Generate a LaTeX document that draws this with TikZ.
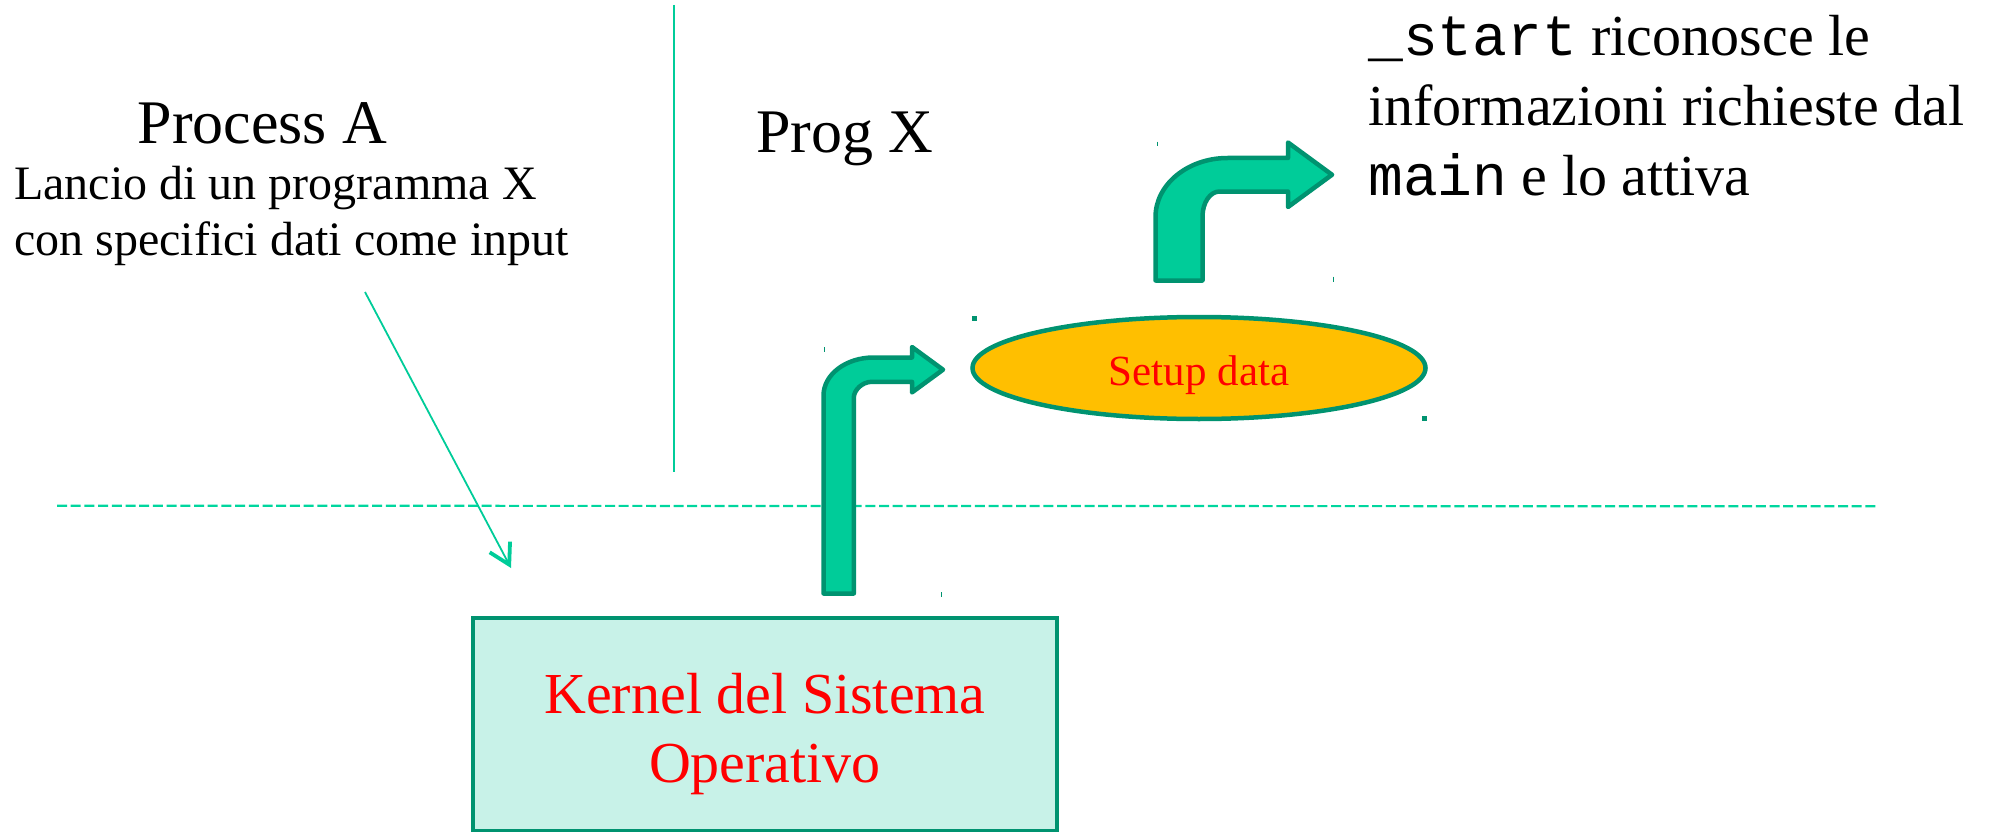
\documentclass[tikz,border=0pt]{standalone}
\usepackage{fontspec}
\setmainfont{Liberation Serif}
\setmonofont{Liberation Mono}
\usetikzlibrary{arrows.meta,shapes.geometric}
\definecolor{darkg}{RGB}{0,147,112}
\definecolor{lightg}{RGB}{0,204,153}
\definecolor{dashg}{RGB}{0,214,158}
\definecolor{kfill}{RGB}{200,242,232}
\definecolor{yfill}{RGB}{255,191,0}
\definecolor{rtext}{RGB}{255,0,0}
\begin{document}
\begin{tikzpicture}[x=1pt,y=-1pt,
  blockarrow/.style={fill=lightg,draw=darkg,line width=4.5pt,line join=round},
  kernelbox/.style={draw=darkg,fill=kfill,line width=4.5pt,minimum width=584pt,minimum height=213pt,inner sep=0pt},
  setupell/.style={ellipse,draw=darkg,fill=yfill,line width=4.5pt,minimum width=453pt,minimum height=102pt,inner sep=0pt},
  redlbl/.style={text=rtext,inner sep=0pt},
  blacklbl/.style={text=black,inner sep=0pt},
  thinline/.style={draw=lightg,line width=1.8pt},
  dashline/.style={draw=dashg,line width=2.2pt,dash pattern=on 10pt off 3.7pt},
  handle/.style={fill=darkg},
  tick/.style={draw=darkg,line width=1pt}
]
\useasboundingbox (0,0) rectangle (1989,832);

% texts
\node[blacklbl,anchor=base,font=\fontsize{62}{71}\selectfont] (procA) at (262.5,143.3) {Process A};
\node[blacklbl,anchor=base west,align=left,font=\fontsize{48}{56}\selectfont] (lancio) at (14,255) {Lancio di un programma X\\con specifici dati come input};
\node[blacklbl,anchor=base west,font=\fontsize{62}{71}\selectfont] (progX) at (756,153) {Prog X};
\node[blacklbl,anchor=base west,align=left,font=\fontsize{58}{70}\selectfont] (desc) at (1368,195) {\texttt{\_start} riconosce le\\informazioni richieste dal\\\texttt{main} e lo attiva};

% separators
\coordinate (vtop) at (673.6,5);
\coordinate (vbot) at (673.6,472);
\draw[thinline] (vtop) -- (vbot);
\coordinate (dl) at (57,505.7);
\coordinate (dr) at (1878,506.3);
\draw[dashline] (dl) -- (dr);

% kernel box
\node[kernelbox] (kernel) at (765,724.5) {};
\node[redlbl,anchor=base,align=center,font=\fontsize{58}{69}\selectfont] (ktext) at (765,782) {Kernel del Sistema\\Operativo};

% setup ellipse
\node[setupell] (setup) at (1199,368) {};
\node[redlbl,anchor=base,font=\fontsize{43}{49}\selectfont] (stext) at (1199,385) {Setup data};
\fill[handle] (972,316) rectangle (977,321);
\fill[handle] (1422,416) rectangle (1427,421);

% diagonal arrow
\coordinate (dstart) at (365,292);
\coordinate (dend) at (511,568);
\draw[thinline,-{Straight Barb[length=20pt,width=23pt,line width=3.8pt]}] (dstart) -- (dend);

% bent arrow 1
\path[blockarrow] (823.5,593.5) -- (823.5,395.5)
  .. controls (823.5,374.5) and (845.9,357.5) .. (873.5,357.5)
  -- (912,357.5) -- (912,347) -- (943,369.7) -- (912,392.4) -- (912,381.8)
  -- (871.8,381.8) .. controls (861.9,381.8) and (853.8,390.5) .. (853.8,397.5)
  -- (853.8,593.5) -- cycle;
\draw[tick] (824.3,347) -- (824.3,352);
\draw[tick] (941.7,592) -- (941.7,597);

% bent arrow 2
\path[blockarrow] (1155.5,280.5) -- (1155.5,217)
  .. controls (1155.5,184.4) and (1187.8,158) .. (1227.5,158)
  -- (1288,158) -- (1288,142.5) -- (1332,174.75) -- (1288,207) -- (1288,191.5)
  -- (1219.5,191.5) .. controls (1210.1,191.5) and (1202.5,202.7) .. (1202.5,216.5)
  -- (1202.5,280.5) -- cycle;
\draw[tick] (1157.7,141.7) -- (1157.7,146.5);
\draw[tick] (1333,276.7) -- (1333,282);
\end{tikzpicture}
\end{document}
